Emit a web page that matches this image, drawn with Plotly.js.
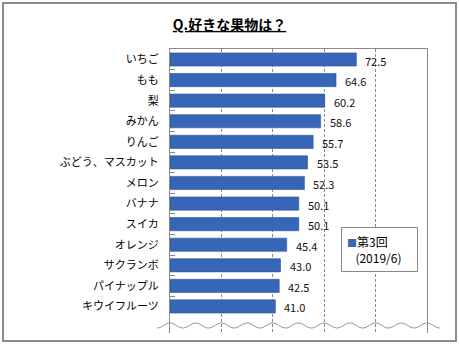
<!DOCTYPE html>
<html>
<head>
<meta charset="utf-8">
<script src="https://cdn.plot.ly/plotly-3.0.1.min.js"></script>
<style>html,body{margin:0;padding:0;background:#fff;}#chart{width:459px;height:346px;}</style>
</head>
<body>
<div id="chart"></div>
<script>
var categories = ["いちご","もも","梨","みかん","りんご","ぶどう、マスカット","メロン","バナナ","スイカ","オレンジ","サクランボ","パイナップル","キウイフルーツ"];
var values = [72.5, 64.6, 60.2, 58.6, 55.7, 53.5, 52.3, 50.1, 50.1, 45.4, 43.0, 42.5, 41.0];
var seriesLine1 = "第3回";
var seriesLine2 = "(2019/6)";
var titleText = "<b><u>Q.好きな果物は？</u></b>";

var W = 459, H = 346;
var mL = 170, mR = 32, mT = 49, mB = 13;
var pw = W - mL - mR, ph = H - mT - mB;
function px2x(p){ return (p - mL) / pw; }
function py2y(p){ return (H - mB - p) / ph; }

var barColor = "#3766b8";

// decorative wavy break line
var wave = "";
for (var p = 157; p <= 440; p += 1) {
  var yy = 325.5 - 2.5 * Math.cos(2 * Math.PI * (p - 170) / 25.7);
  wave += (p === 157 ? "M" : "L") + px2x(p).toFixed(4) + "," + py2y(yy).toFixed(4);
}

var font = "Noto Sans CJK JP, Noto Sans, sans-serif";

var trace = {
  type: "bar",
  orientation: "h",
  y: categories,
  x: values,
  name: seriesLine1 + " " + seriesLine2,
  width: 0.64,
  marker: {color: barColor, line: {color: "#2b5496", width: 0.6}},
  showlegend: false
};

// value labels, placed through the axes
var annotations = values.map(function(v, i){
  return {
    xref: "x", yref: "y", x: v, y: categories[i],
    text: v.toFixed(1), showarrow: false,
    xanchor: "left", yanchor: "middle", xshift: 7, yshift: -1,
    font: {family: font, size: 11, color: "#111"}
  };
});

// legend box
annotations.push({
  xref: "paper", yref: "paper", x: px2x(341), y: py2y(227),
  xanchor: "left", yanchor: "top", showarrow: false, align: "left",
  width: 65, height: 33, borderpad: 5,
  bgcolor: "#fff", bordercolor: "#8a8a8a", borderwidth: 1,
  text: "<span style='font-size:10px;color:" + barColor + "'>■</span>" + seriesLine1 + "<br>\u2002\u2009" + seriesLine2,
  font: {family: font, size: 12, color: "#000"}
});

var layout = {
  width: W, height: H,
  margin: {l: mL, r: mR, t: mT, b: mB, pad: 0},
  paper_bgcolor: "#fff", plot_bgcolor: "#fff",
  font: {family: font, color: "#000"},
  showlegend: false,
  title: {text: titleText, font: {family: font, size: 14, color: "#000"}, x: 0.5, xref: "container", y: 1 - 25/346, yref: "container", yanchor: "middle", xanchor: "center"},
  xaxis: {
    range: [0, 100], dtick: 20, tick0: 0,
    showgrid: true, gridcolor: "#8a8a8a", gridwidth: 1, griddash: "3px,2px",
    showticklabels: false, ticks: "", zeroline: false,
    side: "top", showline: true, linecolor: "#8a8a8a", linewidth: 1,
    fixedrange: true
  },
  yaxis: {
    type: "category",
    categoryorder: "array", categoryarray: categories,
    range: [13.29, -0.51],
    showgrid: false, zeroline: false,
    showline: true, mirror: true, linecolor: "#8a8a8a", linewidth: 1,
    ticks: "inside", tickson: "boundaries", ticklen: 5, tickcolor: "#8a8a8a",
    ticklabelstandoff: 8,
    tickfont: {family: font, size: 11, color: "#000"},
    fixedrange: true
  },
  annotations: annotations,
  shapes: [
    {type: "path", xref: "paper", yref: "paper", path: wave, line: {color: "#9a9a9a", width: 1}, layer: "above"},
    {type: "rect", xref: "paper", yref: "paper", x0: px2x(3), x1: px2x(456), y0: py2y(341), y1: py2y(3), line: {color: "#8c8c8c", width: 2}, fillcolor: "rgba(0,0,0,0)", layer: "above"}
  ]
};

Plotly.newPlot("chart", [trace], layout, {displayModeBar: false, staticPlot: true});
</script>
</body>
</html>
